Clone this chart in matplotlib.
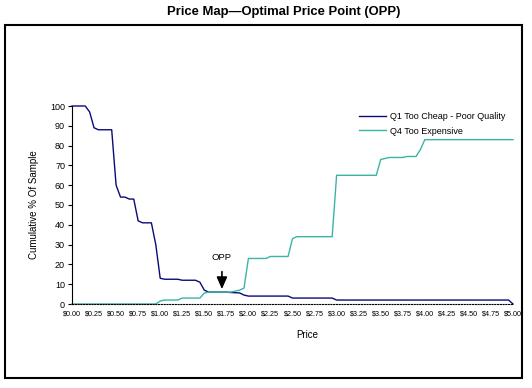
import numpy as np
import matplotlib.pyplot as plt
from matplotlib.patches import Rectangle

# price grid in 5 cent steps, $0.00 .. $5.00
prices = np.round(np.arange(0, 5.0001, 0.05), 2)

too_cheap = [
    100, 100, 100, 100, 97, 89, 88, 88, 88, 88,      # 0.00 - 0.45
    60, 54, 54, 53, 53, 42, 41, 41, 41, 30,           # 0.50 - 0.95
    13, 12.5, 12.5, 12.5, 12.5, 12, 12, 12, 12, 11,   # 1.00 - 1.45
    7, 6, 6, 6, 6, 6, 5.8, 5.7, 5.6, 4.5,             # 1.50 - 1.95
    4, 4, 4, 4, 4, 4, 4, 4, 4, 4,                     # 2.00 - 2.45
    3, 3, 3, 3, 3, 3, 3, 3, 3, 3,                     # 2.50 - 2.95
    2, 2, 2, 2, 2, 2, 2, 2, 2, 2,                     # 3.00 - 3.45
    2, 2, 2, 2, 2, 2, 2, 2, 2, 2,                     # 3.50 - 3.95
    2, 2, 2, 2, 2, 2, 2, 2, 2, 2,                     # 4.00 - 4.45
    2, 2, 2, 2, 2, 2, 2, 2, 2, 2,                     # 4.50 - 4.95
    0,                                                 # 5.00
]

too_expensive = [
    0, 0, 0, 0, 0, 0, 0, 0, 0, 0,                     # 0.00 - 0.45
    0, 0, 0, 0, 0, 0, 0, 0, 0, 0,                     # 0.50 - 0.95
    1.5, 2, 2, 2, 2, 3, 3, 3, 3, 3,                   # 1.00 - 1.45
    5.5, 6, 6, 6, 6, 6, 6, 6.5, 7, 8,                 # 1.50 - 1.95
    23, 23, 23, 23, 23, 24, 24, 24, 24, 24,           # 2.00 - 2.45
    33, 34, 34, 34, 34, 34, 34, 34, 34, 34,           # 2.50 - 2.95
    65, 65, 65, 65, 65, 65, 65, 65, 65, 65,           # 3.00 - 3.45
    73, 73.5, 74, 74, 74, 74, 74.5, 74.5, 74.5, 78,   # 3.50 - 3.95
    83, 83, 83, 83, 83, 83, 83, 83, 83, 83,           # 4.00 - 4.45
    83, 83, 83, 83, 83, 83, 83, 83, 83, 83,           # 4.50 - 4.95
    83,                                                # 5.00
]

xticks = np.arange(0, 5.01, 0.25)
xtick_labels = ["$%.2f" % v for v in xticks]

opp_price = 1.70
opp_value = 7.5

fig = plt.figure(figsize=(5.32, 3.88), dpi=100)
plt.rcParams["font.family"] = ["Liberation Sans", "DejaVu Sans"]

# outer chart border
fig.patches.append(Rectangle((5 / 532, 1 - 378 / 388), 517 / 532, 353.5 / 388,
                             transform=fig.transFigure, fill=False,
                             edgecolor="black", linewidth=1.5))

fig.text(284 / 532, 1 - 12 / 388, "Price Map\u2014Optimal Price Point (OPP)",
         ha="center", va="center", fontsize=9.4, fontweight="bold")

ax = fig.add_axes([72 / 532, 1 - 304 / 388, 441 / 532, 198 / 388])

ax.plot(prices, too_cheap, color="#0A0A7A", linewidth=1.0,
        label="Q1 Too Cheap - Poor Quality", clip_on=False)
ax.plot(prices, too_expensive, color="#3AB5A5", linewidth=1.0,
        label="Q4 Too Expensive", clip_on=False)

ax.annotate("OPP", xy=(opp_price, opp_value), xytext=(opp_price, 23.5),
            ha="center", va="center", fontsize=6.8,
            arrowprops=dict(arrowstyle="-|>,head_width=0.35,head_length=0.8",
                            mutation_scale=9, color="black", lw=1.2,
                            shrinkA=5, shrinkB=0))

ax.set_xlim(0, 5)
ax.set_ylim(0, 100)
ax.set_yticks(np.arange(0, 101, 10))
ax.tick_params(axis="y", labelsize=6.5, length=3, width=0.8, pad=2)
ax.set_xticks(xticks)
ax.set_xticklabels(xtick_labels, fontsize=5.2)
ax.tick_params(axis="x", length=0, pad=5)

for side in ["top", "right"]:
    ax.spines[side].set_visible(False)
ax.spines["left"].set_linewidth(0.8)
ax.spines["bottom"].set_linestyle((0, (1, 1.5)))
ax.spines["bottom"].set_linewidth(0.8)

ax.set_ylabel("Cumulative % Of Sample", fontsize=7, labelpad=8)
ax.set_xlabel("Price", fontsize=7)
ax.xaxis.set_label_coords((307 - 72) / 441, -0.13)

ax.legend(loc="upper right", bbox_to_anchor=(1.0, 1.01), frameon=False,
          fontsize=6.5, handlelength=3, handletextpad=0.4, labelspacing=0.6)

fig.savefig("out.png", dpi=100)
